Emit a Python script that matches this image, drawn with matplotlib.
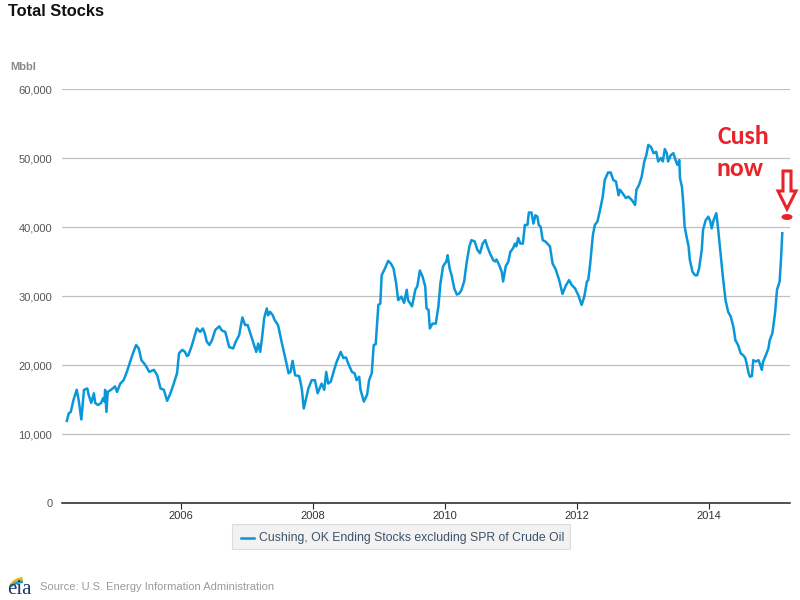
import matplotlib.pyplot as plt
import numpy as np
from matplotlib.patches import Polygon, Ellipse, FancyBboxPatch, Arc

plt.rcParams['font.family'] = ['Liberation Sans', 'DejaVu Sans']

# Cushing, OK ending stocks excl. SPR (thousand barrels)
years = [
    2004.27, 2004.30, 2004.33, 2004.37, 2004.42, 2004.45, 2004.49, 2004.53, 2004.58, 2004.60,
    2004.64, 2004.68, 2004.70, 2004.74, 2004.79, 2004.82, 2004.84, 2004.85, 2004.87, 2004.89,
    2004.94, 2005.00, 2005.03, 2005.08, 2005.13, 2005.18, 2005.23, 2005.28, 2005.32, 2005.36,
    2005.40, 2005.46, 2005.52, 2005.59, 2005.64, 2005.69, 2005.74, 2005.79, 2005.84, 2005.89,
    2005.94, 2005.97, 2006.02, 2006.06, 2006.09, 2006.11, 2006.16, 2006.21, 2006.24, 2006.29,
    2006.33, 2006.36, 2006.39, 2006.43, 2006.47, 2006.52, 2006.58, 2006.62, 2006.67, 2006.69,
    2006.73, 2006.79, 2006.83, 2006.88, 2006.93, 2006.97, 2007.01, 2007.05, 2007.10, 2007.14,
    2007.17, 2007.20, 2007.23, 2007.26, 2007.30, 2007.32, 2007.35, 2007.39, 2007.42, 2007.47,
    2007.53, 2007.58, 2007.63, 2007.66, 2007.69, 2007.73, 2007.79, 2007.83, 2007.86, 2007.89,
    2007.93, 2007.98, 2008.03, 2008.07, 2008.13, 2008.17, 2008.20, 2008.23, 2008.27, 2008.32,
    2008.36, 2008.42, 2008.46, 2008.50, 2008.53, 2008.59, 2008.63, 2008.66, 2008.70, 2008.72,
    2008.77, 2008.82, 2008.85, 2008.89, 2008.92, 2008.95, 2008.99, 2009.02, 2009.04, 2009.09,
    2009.14, 2009.18, 2009.22, 2009.26, 2009.29, 2009.34, 2009.38, 2009.42, 2009.44, 2009.50,
    2009.55, 2009.58, 2009.62, 2009.66, 2009.70, 2009.72, 2009.75, 2009.77, 2009.81, 2009.86,
    2009.90, 2009.93, 2009.97, 2010.02, 2010.04, 2010.07, 2010.10, 2010.14, 2010.18, 2010.22,
    2010.25, 2010.29, 2010.33, 2010.37, 2010.40, 2010.45, 2010.49, 2010.53, 2010.57, 2010.61,
    2010.64, 2010.68, 2010.73, 2010.76, 2010.78, 2010.82, 2010.86, 2010.88, 2010.92, 2010.96,
    2010.99, 2011.03, 2011.06, 2011.08, 2011.11, 2011.14, 2011.18, 2011.21, 2011.25, 2011.27,
    2011.31, 2011.34, 2011.37, 2011.40, 2011.42, 2011.45, 2011.48, 2011.52, 2011.55, 2011.59,
    2011.63, 2011.68, 2011.73, 2011.78, 2011.83, 2011.88, 2011.92, 2011.97, 2012.02, 2012.07,
    2012.11, 2012.15, 2012.17, 2012.20, 2012.24, 2012.27, 2012.31, 2012.35, 2012.39, 2012.42,
    2012.47, 2012.51, 2012.55, 2012.59, 2012.63, 2012.65, 2012.69, 2012.74, 2012.78, 2012.83,
    2012.88, 2012.90, 2012.94, 2012.98, 2013.02, 2013.05, 2013.08, 2013.12, 2013.16, 2013.20,
    2013.23, 2013.27, 2013.30, 2013.33, 2013.36, 2013.38, 2013.42, 2013.46, 2013.50, 2013.52,
    2013.55, 2013.56, 2013.59, 2013.61, 2013.63, 2013.66, 2013.69, 2013.71, 2013.75, 2013.79,
    2013.82, 2013.85, 2013.89, 2013.91, 2013.95, 2013.99, 2014.02, 2014.04, 2014.07, 2014.11,
    2014.13, 2014.17, 2014.21, 2014.25, 2014.29, 2014.33, 2014.37, 2014.40, 2014.44, 2014.48,
    2014.52, 2014.55, 2014.57, 2014.60, 2014.62, 2014.65, 2014.67, 2014.71, 2014.75, 2014.77,
    2014.80, 2014.82, 2014.86, 2014.90, 2014.92, 2014.96, 2015.00, 2015.03, 2015.07, 2015.09,
    2015.11,
]
stocks = [
    11900, 13000, 13200, 14900, 16400, 14900, 12100, 16400, 16600, 15700,
    14500, 15900, 14500, 14200, 14500, 15200, 14700, 16400, 13200, 16100,
    16400, 16900, 16100, 17300, 17800, 19000, 20500, 21900, 22900, 22400,
    20700, 20000, 19000, 19300, 18500, 16600, 16400, 14800, 15900, 17300,
    18800, 21700, 22200, 21900, 21300, 21400, 22700, 24300, 25300, 24800,
    25300, 24600, 23400, 22900, 23600, 25100, 25600, 25000, 24800, 24100,
    22600, 22400, 23400, 24300, 26900, 25800, 25800, 24600, 23100, 21900,
    23100, 21900, 24100, 26800, 28200, 27200, 27700, 27200, 26500, 25800,
    23100, 21000, 18800, 19000, 20600, 18500, 18400, 16600, 13700, 14900,
    16600, 17800, 17800, 15900, 17300, 16400, 19000, 17300, 17600, 19300,
    20500, 21900, 21000, 21100, 20300, 19000, 18800, 17800, 18300, 16400,
    14700, 15700, 17800, 18800, 22900, 23000, 28700, 28900, 33000, 34000,
    35100, 34700, 34000, 31800, 29400, 29900, 29000, 30900, 29400, 28500,
    30900, 31400, 33700, 32800, 31400, 28200, 28000, 25300, 26000, 26000,
    28500, 31800, 34300, 35000, 35900, 34000, 33000, 31100, 30200, 30400,
    30900, 32100, 35000, 37200, 38100, 37900, 36700, 36200, 37600, 38100,
    37200, 36200, 35200, 35000, 35300, 34500, 33500, 32100, 34300, 35000,
    36400, 36900, 37600, 37200, 38400, 37600, 37600, 40300, 40300, 42100,
    42100, 40500, 41700, 41500, 40300, 40000, 38100, 37900, 37600, 37200,
    34700, 33800, 32300, 30300, 31500, 32300, 31600, 31100, 30100, 28700,
    29900, 32100, 32300, 34700, 38800, 40300, 40800, 42500, 44400, 46800,
    47900, 47900, 46800, 46600, 44600, 45400, 44900, 44200, 44400, 43900,
    43200, 45400, 46100, 47300, 49500, 50400, 51900, 51600, 50700, 50900,
    49500, 50000, 49500, 51300, 50700, 49500, 50400, 50700, 49500, 49000,
    49700, 47100, 45800, 43400, 40100, 38600, 37200, 35200, 33500, 33000,
    33000, 34000, 36700, 39600, 41000, 41500, 40800, 39800, 41000, 42000,
    40500, 36700, 32800, 29400, 27700, 27000, 25500, 23600, 22900, 21700,
    21400, 21000, 20200, 18800, 18300, 18400, 20700, 20500, 20700, 20200,
    19300, 20500, 21400, 22400, 23600, 24600, 27500, 30900, 32100, 35200,
    39100,
]
tick_years = [2006, 2008, 2010, 2012, 2014]
y_ticks = [0, 10000, 20000, 30000, 40000, 50000, 60000]
series_label = "Cushing, OK Ending Stocks excluding SPR of Crude Oil"

LINE = '#0a97d9'
RED = '#e8242b'


def fx(px):
    return px / 800


def fy(py):
    return 1 - py / 600


fig = plt.figure(figsize=(8, 6), dpi=100)
ax = fig.add_axes([62 / 800, 97 / 600, 728 / 800, 414 / 600])

ax.plot(years, stocks, color=LINE, lw=1.8, solid_joinstyle='round')

ax.set_xlim(2004.197, 2015.227)
ax.set_ylim(0, 60000)
ax.set_yticks(y_ticks)
ax.set_yticklabels([f"{v:,}" for v in y_ticks])
ax.set_xticks(tick_years)
ax.set_xticklabels([str(y) for y in tick_years])

ax.grid(axis='y', color='#c0c0c0', lw=0.9)
ax.set_axisbelow(True)
for side in ['top', 'right', 'left']:
    ax.spines[side].set_visible(False)
ax.spines['bottom'].set_color('#222222')
ax.spines['bottom'].set_linewidth(1.1)
ax.tick_params(axis='y', length=0, pad=7, labelsize=8, labelcolor='#555555')
ax.tick_params(axis='x', length=4, width=0.8, color='#222222', pad=1.5,
               labelsize=8, labelcolor='#333333')

# titles
fig.text(fx(8), fy(11), "Total Stocks", fontsize=11.8, fontweight='bold',
         color='#111111', va='center', ha='left')
fig.text(fx(10), fy(67), "Mbbl", fontsize=8, fontweight='bold',
         color='#8a8a8a', va='center', ha='left')

# annotation
cal = ['Carlito', 'Liberation Sans', 'DejaVu Sans']
fig.text(fx(717), fy(136), "Cush", fontsize=18.5, fontweight='bold',
         color=RED, va='center', ha='left', family=cal)
fig.text(fx(717), fy(168), "now", fontsize=18.5, fontweight='bold',
         color=RED, va='center', ha='left', family=cal)

arrow = Polygon([(fx(783), fy(171)), (fx(791), fy(171)), (fx(791), fy(191)),
                 (fx(796), fy(191)), (fx(787), fy(209)), (fx(778), fy(191)),
                 (fx(783), fy(191))], closed=True, facecolor='white',
                edgecolor=RED, lw=2.2, transform=fig.transFigure)
fig.patches.append(arrow)
dot = Ellipse((fx(787), fy(217)), 11 / 800, 6 / 600, facecolor=RED,
              edgecolor='none', transform=fig.transFigure)
fig.patches.append(dot)

# legend box
box = FancyBboxPatch((fx(232), fy(549)), 338 / 800, 25 / 600,
                     boxstyle='square,pad=0', facecolor='#f2f2f2',
                     edgecolor='#dcdcdc', lw=0.8, transform=fig.transFigure)
fig.patches.append(box)
fig.lines.append(plt.Line2D([fx(241), fx(254)], [fy(538), fy(538)], color=LINE,
                            lw=1.8, transform=fig.transFigure))
fig.text(fx(259), fy(538), series_label, fontsize=8.8, color='#3d5268',
         va='center', ha='left')

# source footer with a simple eia mark
fig.text(fx(7), fy(589), "eia", fontsize=15, color='#1d3a6b', va='center',
         ha='left', family=['Liberation Serif', 'DejaVu Serif'])
for i, c in enumerate(['#f2b817', '#8cc63f', '#2a8fd0']):
    arc = Arc((fx(24), fy(591)), 30 / 800, (26 - i * 4) / 600, theta1=95, theta2=155,
              color=c, lw=1.6, transform=fig.transFigure)
    fig.patches.append(arc)
fig.text(fx(40), fy(587), "Source: U.S. Energy Information Administration",
         fontsize=8, color='#9a9a9a', va='center', ha='left')

fig.savefig('out.png', dpi=100, facecolor='white')
